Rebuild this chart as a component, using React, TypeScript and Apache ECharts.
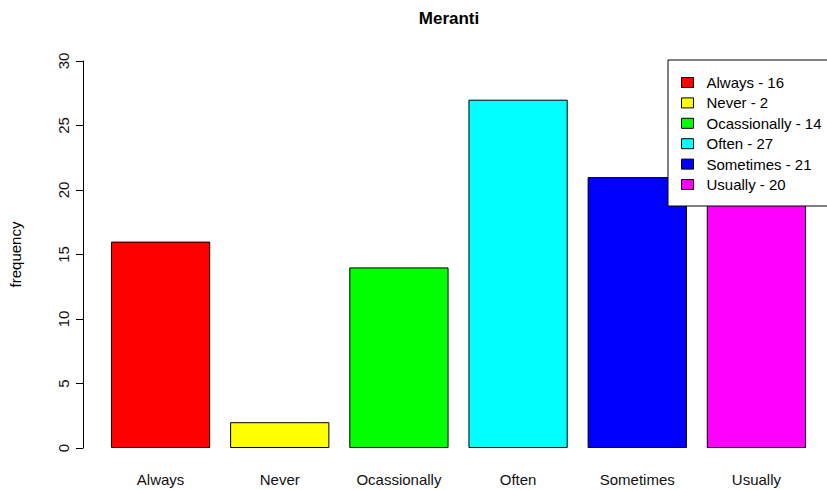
import React, { useEffect, useRef } from "react";
import * as echarts from "echarts";

const categories = ["Always", "Never", "Ocassionally", "Often", "Sometimes", "Usually"];
const frequencies = [16, 2, 14, 27, 21, 20];
const barColors = ["#FF0000", "#FFFF00", "#00FF00", "#00FFFF", "#0000FF", "#FF00FF"];
const yMin = 0;
const yMax = 30;
const yInterval = 5;
const chartTitle = "Meranti";
const yAxisName = "frequency";

const FONT = "'Liberation Sans', Arial, Helvetica, sans-serif";

export default function App() {
  const ref = useRef<HTMLDivElement>(null);
  useEffect(() => {
    if (!ref.current) return;
    const chart = echarts.init(ref.current, null, { renderer: "svg" });
    const series = categories.map((c, i) => ({
      name: `${c} - ${frequencies[i]}`,
      type: "bar",
      stack: "total",
      barCategoryGap: "16.7%",
      data: categories.map((_, j) => (j === i ? frequencies[i] : null)),
      itemStyle: { color: barColors[i], borderColor: "#000", borderWidth: 1 },
    }));
    chart.setOption({
      animation: false,
      backgroundColor: "#fff",
      textStyle: { fontFamily: FONT },
      graphic: [
        {
          type: "text",
          x: 449,
          y: 18,
          style: {
            text: chartTitle,
            textAlign: "center",
            textVerticalAlign: "middle",
            font: `bold 17px ${FONT}`,
            fill: "#000",
          },
        },
      ],
      grid: { left: 100, right: 11, top: 61, bottom: 42 },
      legend: {
        orient: "vertical",
        left: 668,
        top: 60,
        icon: "rect",
        itemWidth: 12,
        itemHeight: 10,
        itemGap: 5.4,
        backgroundColor: "#fff",
        borderColor: "#000",
        borderWidth: 1,
        borderRadius: 0,
        padding: [15, 30, 14, 13],
        itemStyle: { borderColor: "#000", borderWidth: 1 },
        textStyle: { fontSize: 15, color: "#000", fontFamily: FONT, padding: [0, 0, 0, 8] },
      },
      xAxis: {
        type: "category",
        data: categories,
        axisLine: { show: false },
        axisTick: { show: false },
        axisLabel: { fontSize: 15, color: "#111", margin: 24, fontFamily: FONT },
      },
      yAxis: {
        type: "value",
        min: yMin,
        max: yMax,
        interval: yInterval,
        offset: 18,
        splitLine: { show: false },
        axisLine: { show: true, lineStyle: { color: "#000", width: 1 } },
        axisTick: { show: true, length: 7, lineStyle: { color: "#000" } },
        axisLabel: { rotate: 90, fontSize: 15, color: "#111", margin: 12, fontFamily: FONT },
        name: yAxisName,
        nameLocation: "middle",
        nameRotate: 90,
        nameGap: 60,
        nameTextStyle: { fontSize: 15, color: "#000", fontFamily: FONT },
      },
      series,
    });
    return () => chart.dispose();
  }, []);
  return (
    <div
      ref={ref}
      style={{ position: "fixed", left: 0, top: 0, width: 827, height: 490 }}
    />
  );
}
